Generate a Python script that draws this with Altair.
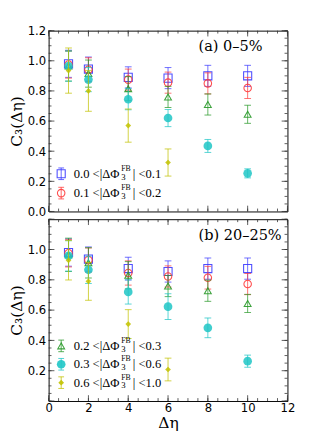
import altair as alt
import pandas as pd

# ---------------- data ----------------
deta = [1, 2, 4, 6, 8, 10]
deta_short = [1, 2, 4, 6]

# panel (a) 0-5%
a_c3_s1 = [0.98, 0.945, 0.89, 0.885, 0.90, 0.90]
a_err_s1 = [0.09, 0.08, 0.07, 0.07, 0.07, 0.07]
a_c3_s2 = [0.975, 0.94, 0.875, 0.855, 0.85, 0.82]
a_err_s2 = [0.09, 0.08, 0.07, 0.07, 0.07, 0.07]
a_c3_s3 = [0.965, 0.915, 0.815, 0.76, 0.71, 0.645]
a_err_s3 = [0.10, 0.09, 0.08, 0.07, 0.07, 0.06]
a_c3_s4 = [0.965, 0.875, 0.745, 0.62, 0.435, 0.253]
a_err_s4 = [0.10, 0.08, 0.07, 0.057, 0.043, 0.03]
a_c3_s5 = [0.935, 0.80, 0.57, 0.325]
a_err_s5 = [0.15, 0.135, 0.11, 0.09]

# panel (b) 20-25%
b_c3_s1 = [0.98, 0.937, 0.874, 0.855, 0.874, 0.874]
b_err_s1 = [0.09, 0.08, 0.075, 0.07, 0.07, 0.07]
b_c3_s2 = [0.975, 0.93, 0.845, 0.822, 0.814, 0.772]
b_err_s2 = [0.09, 0.08, 0.08, 0.07, 0.075, 0.07]
b_c3_s3 = [0.965, 0.912, 0.83, 0.759, 0.728, 0.644]
b_err_s3 = [0.11, 0.10, 0.09, 0.07, 0.07, 0.06]
b_c3_s4 = [0.958, 0.866, 0.72, 0.623, 0.483, 0.263]
b_err_s4 = [0.10, 0.09, 0.08, 0.085, 0.065, 0.04]
b_c3_s5 = [0.929, 0.79, 0.508, 0.208]
b_err_s5 = [0.13, 0.125, 0.095, 0.075]

bins_lo = ["0.0", "0.1", "0.2", "0.3", "0.6"]
bins_hi = ["0.1", "0.2", "0.3", "0.6", "1.0"]

x_major = [0, 2, 4, 6, 8, 10, 12]
x_minor = [i * 0.5 for i in range(25)]
y_major = [0.0, 0.2, 0.4, 0.6, 0.8, 1.0, 1.2]
y_minor = [round(i * 0.05, 2) for i in range(25)]
y_labels_a = [0.0, 0.2, 0.4, 0.6, 0.8, 1.0, 1.2]
y_labels_b = [0.2, 0.4, 0.6, 0.8, 1.0]

styles = [
    dict(color="#3b3bff", shape="square", filled=False, size=70),
    dict(color="#ff3b3b", shape="circle", filled=False, size=60),
    dict(color="#2a9a2a", shape="triangle-up", filled=False, size=50),
    dict(color="#1ec6c6", shape="circle", filled=True, size=80),
    dict(color="#c2c200", shape="diamond", filled=True, size=35),
]

W = 247
SERIF = "DejaVu Serif"
LSERIF = "Liberation Serif"
ONE = pd.DataFrame({"d": [0]})


def panel(c3s, errs, legend_idx, legend_y, note, H, bottom, ylab):
    xs = alt.Scale(domain=[0, 12], nice=False, zero=False)
    ys = alt.Scale(domain=[0, 1.2], nice=False, zero=False)
    if bottom:
        xaxis = alt.Axis(values=x_major, format="d", labelFlush=False,
                         title="Δη", labelPadding=2, titlePadding=1)
    else:
        xaxis = None
    yaxis = alt.Axis(values=ylab, format=".1f", title="C₃(Δη)",
                     labelPadding=3, titlePadding=3)

    def X(f):
        return alt.X(f, type="quantitative", scale=xs, axis=xaxis)

    def Y(f):
        return alt.Y(f, type="quantitative", scale=ys, axis=yaxis)

    layers = []
    # inward ticks
    for vals, ln in ((x_minor, 3), (x_major, 6)):
        d = pd.DataFrame({"v": vals})
        layers.append(alt.Chart(d).mark_rule(color="#333", strokeWidth=0.8).encode(
            x=X("v"), y=alt.value(H), y2=alt.value(H - ln)))
        layers.append(alt.Chart(d).mark_rule(color="#333", strokeWidth=0.8).encode(
            x=X("v"), y=alt.value(0), y2=alt.value(ln)))
    for vals, ln in ((y_minor, 3), (y_major, 6)):
        d = pd.DataFrame({"v": vals})
        layers.append(alt.Chart(d).mark_rule(color="#333", strokeWidth=0.8).encode(
            y=Y("v"), x=alt.value(0), x2=alt.value(ln)))
        layers.append(alt.Chart(d).mark_rule(color="#333", strokeWidth=0.8).encode(
            y=Y("v"), x=alt.value(W), x2=alt.value(W - ln)))

    # data series
    for i, (vals, er) in enumerate(zip(c3s, errs)):
        st = styles[i]
        xx = deta if len(vals) == len(deta) else deta_short
        d = pd.DataFrame({"deta": xx, "c3": vals, "err": er})
        d["lo"] = d["c3"] - d["err"]
        d["hi"] = d["c3"] + d["err"]
        base = alt.Chart(d)
        layers.append(base.mark_rule(color=st["color"], strokeWidth=1, opacity=0.75).encode(
            x=X("deta"), y=Y("lo"), y2=alt.Y2("hi")))
        for f in ("lo", "hi"):
            layers.append(base.mark_tick(color=st["color"], orient="horizontal", size=7,
                                         thickness=1, opacity=0.75).encode(
                x=X("deta"), y=Y(f)))
        layers.append(base.mark_point(shape=st["shape"], filled=st["filled"], size=st["size"],
                                      color=st["color"], strokeWidth=1.1,
                                      opacity=0.85 if st["filled"] else 0.9).encode(
            x=X("deta"), y=Y("c3")))

    # legend
    for k, i in enumerate(legend_idx):
        st = styles[i]
        yy = legend_y[k]
        sx = 13
        layers.append(alt.Chart(ONE).mark_rule(color=st["color"], strokeWidth=1, opacity=0.8).encode(
            x=alt.value(sx), y=alt.value(yy - 6), y2=alt.value(yy + 6)))
        for dy in (-6, 6):
            layers.append(alt.Chart(ONE).mark_rule(color=st["color"], strokeWidth=1, opacity=0.8).encode(
                x=alt.value(sx - 3), x2=alt.value(sx + 3), y=alt.value(yy + dy)))
        layers.append(alt.Chart(ONE).mark_point(shape=st["shape"], filled=st["filled"], size=st["size"],
                                                color=st["color"], strokeWidth=1.1, opacity=0.9).encode(
            x=alt.value(sx), y=alt.value(yy)))
        tx = 26
        layers.append(alt.Chart(ONE).mark_text(text=bins_lo[i] + " <|ΔΦ", font=LSERIF, fontSize=13,
                                               align="left", baseline="middle", color="black").encode(
            x=alt.value(tx), y=alt.value(yy)))
        layers.append(alt.Chart(ONE).mark_text(text="FB", font=LSERIF, fontSize=8,
                                               align="left", baseline="middle", color="black").encode(
            x=alt.value(tx + 49), y=alt.value(yy - 5)))
        layers.append(alt.Chart(ONE).mark_text(text="3", font=LSERIF, fontSize=9,
                                               align="left", baseline="middle", color="black").encode(
            x=alt.value(tx + 49), y=alt.value(yy + 3)))
        layers.append(alt.Chart(ONE).mark_text(text="| <" + bins_hi[i], font=LSERIF, fontSize=13,
                                               align="left", baseline="middle", color="black").encode(
            x=alt.value(tx + 61), y=alt.value(yy)))

    layers.append(alt.Chart(ONE).mark_text(text=note, font=SERIF, fontSize=15, align="left",
                                           baseline="middle", color="black").encode(
        x=alt.value(155), y=alt.value(16)))

    return alt.layer(*layers).properties(width=W, height=H)


top = panel([a_c3_s1, a_c3_s2, a_c3_s3, a_c3_s4, a_c3_s5],
            [a_err_s1, a_err_s2, a_err_s3, a_err_s4, a_err_s5],
            [0, 1], [148, 168], "(a) 0–5%", 187, False, y_labels_a)
bot = panel([b_c3_s1, b_c3_s2, b_c3_s3, b_c3_s4, b_c3_s5],
            [b_err_s1, b_err_s2, b_err_s3, b_err_s4, b_err_s5],
            [2, 3, 4], [131, 150, 169], "(b) 20–25%", 188, True, y_labels_b)

chart = alt.vconcat(top, bot, spacing=0).properties(
    padding={"left": 0, "top": 9, "right": 5, "bottom": 5},
    background="white",
).configure_view(stroke="black", strokeWidth=1).configure_axis(
    domain=False, ticks=False, grid=False,
    labelFont="DejaVu Sans", labelFontSize=12, labelColor="black",
    titleFont=SERIF, titleFontSize=16, titleFontWeight="normal", titleColor="black",
)

chart.save("out.html", embed_options={"renderer": "svg", "actions": False})
